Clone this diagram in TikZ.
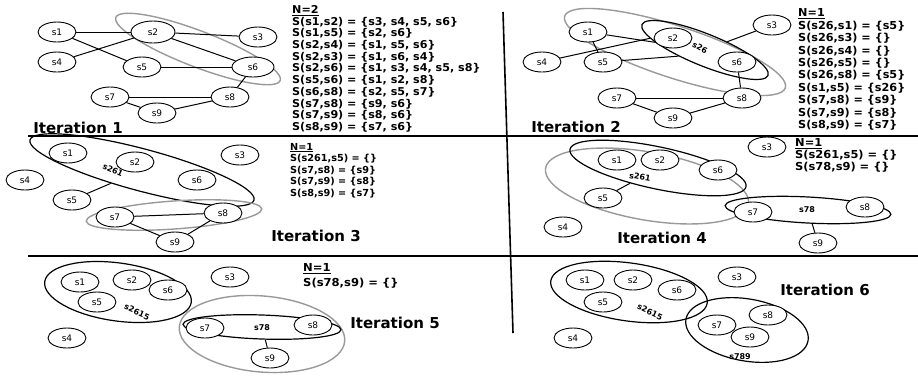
\documentclass[tikz,border=0pt]{standalone}
\usepackage{fontspec}
\setmainfont{DejaVu Sans}
\usetikzlibrary{shapes.geometric}
\newcommand\nodetxt{\fontsize{9}{10}\selectfont}
\newcommand\itertxt{\fontsize{15}{16}\selectfont\bfseries}
\newcommand\grptxt{\fontsize{8}{9}\selectfont\bfseries}
% #1 font size, #2 line distance, #3 horizontal stretch, #4 rows
\newcommand\statrows[4]{\scalebox{#3}[1]{\fontsize{#1}{#2}\selectfont\bfseries
  \begin{tabular}{@{}l@{}}#4\end{tabular}}}
\tikzset{
  sn/.style={ellipse, draw, line width=0.9pt, minimum width=38pt, minimum height=20pt, inner sep=0pt, font=\nodetxt, fill=white},
  grp/.style={ellipse, draw, line width=1.2pt, inner sep=0pt},
  hl/.style={ellipse, draw=black!40, line width=1.4pt, inner sep=0pt},
  link/.style={line width=1pt},
  itlab/.style={font=\itertxt, inner sep=0pt},
  info/.style={anchor=north west, inner sep=0pt},
  glab/.style={font=\grptxt, inner sep=0pt},
  rule/.style={line width=1.2pt}
}
\begin{document}
\begin{tikzpicture}[x=1pt,y=-1pt]
\useasboundingbox (0,0) rectangle (918,376);

% panel dividers
\coordinate (h1a) at (28,136);  \coordinate (h1b) at (918,136);
\coordinate (h2a) at (28,256);  \coordinate (h2b) at (918,256);
\coordinate (va) at (503,12);   \coordinate (vb) at (513,333);
\draw[rule] (h1a) -- (h1b);
\draw[rule] (h2a) -- (h2b);
\draw[line width=1.6pt] (va) -- (vb);

% ---------------- Iteration 1 ----------------
\node[hl, minimum width=176pt, minimum height=36pt, rotate=-21] (a26) at (198,49) {};
\node[sn] (a1) at (57,32) {s1};
\node[sn, minimum width=44pt, minimum height=22pt] (a2) at (153,32) {s2};
\node[sn] (a3) at (258,37) {s3};
\node[sn] (a4) at (57,62) {s4};
\node[sn] (a5) at (142,67) {s5};
\node[sn, minimum width=42pt] (a6) at (253,67) {s6};
\node[sn] (a7) at (110,97) {s7};
\node[sn] (a8) at (230,97) {s8};
\node[sn] (a9) at (157,113) {s9};
\draw[link] (a1) -- (a2);
\draw[link] (a1) -- (a5);
\draw[link] (a4) -- (a2);
\draw[link] (a2) -- (a3);
\draw[link] (a2) -- (a6);
\draw[link] (a5) -- (a6);
\draw[link] (a6) -- (a8);
\draw[link] (a7) -- (a8);
\draw[link] (a7) -- (a9);
\draw[link] (a9) -- (a8);
\node[itlab] (it1) at (78,128) {Iteration 1};
\node[info] (t1) at (292,5) {\statrows{10.8}{11.7}{1.03}{\underline{N=2}\\
S(s1,s2) = \{s3, s4, s5, s6\}\\
S(s1,s5) = \{s2, s6\}\\
S(s2,s4) = \{s1, s5, s6\}\\
S(s2,s3) = \{s1, s6, s4\}\\
S(s2,s6) = \{s1, s3, s4, s5, s8\}\\
S(s5,s6) = \{s1, s2, s8\}\\
S(s6,s8) = \{s2, s5, s7\}\\
S(s7,s8) = \{s9, s6\}\\
S(s7,s9) = \{s8, s6\}\\
S(s8,s9) = \{s7, s6\}}};

% ---------------- Iteration 2 ----------------
\node[hl, minimum width=232pt, minimum height=52pt, rotate=-18] (bh) at (675,52) {};
\node[grp, minimum width=136pt, minimum height=32pt, rotate=-22] (b26) at (705,50) {};
\node[sn] (b1) at (588,32) {s1};
\node[sn] (b2) at (673,38) {s2};
\node[sn] (b3) at (772,25) {s3};
\node[sn] (b4) at (542,62) {s4};
\node[sn] (b5) at (603,62) {s5};
\node[sn] (b6) at (737,62) {s6};
\node[sn] (b7) at (617,98) {s7};
\node[sn] (b8) at (742,98) {s8};
\node[sn] (b9) at (673,118) {s9};
\node[glab, rotate=-30] (l26) at (700,48) {s26};
\draw[link] (b1) -- (b26);
\draw[link] (b1) -- (b5);
\draw[link] (b4) -- (b26.190);
\draw[link] (b5) -- (b26.215);
\draw[link] (b3) -- (b26);
\draw[link] (b6) -- (b8);
\draw[link] (b7) -- (b8);
\draw[link] (b7) -- (b9);
\draw[link] (b9) -- (b8);
\node[itlab] (it2) at (576,127) {Iteration 2};
\node[info] (t2) at (798,8) {\statrows{11}{12.4}{1.02}{\underline{N=1}\\
S(s26,s1) = \{s5\}\\
S(s26,s3) = \{\}\\
S(s26,s4) = \{\}\\
S(s26,s5) = \{\}\\
S(s26,s8) = \{s5\}\\
S(s1,s5) = \{s26\}\\
S(s7,s8) = \{s9\}\\
S(s7,s9) = \{s8\}\\
S(s8,s9) = \{s7\}}};

% ---------------- Iteration 3 ----------------
\node[grp, minimum width=232pt, minimum height=42pt, rotate=-15] (c261) at (142,170) {};
\node[hl, minimum width=176pt, minimum height=28pt, rotate=4] (ch) at (174,215) {};
\node[sn] (c1) at (68,153) {s1};
\node[sn] (c2) at (135,162) {s2};
\node[sn] (c3) at (240,155) {s3};
\node[sn] (c4) at (25,180) {s4};
\node[sn] (c5) at (72,200) {s5};
\node[sn] (c6) at (197,180) {s6};
\node[sn] (c7) at (115,217) {s7};
\node[sn] (c8) at (223,213) {s8};
\node[sn] (c9) at (175,242) {s9};
\node[glab, rotate=-25] (l261) at (113,170) {s261};
\draw[link] (c5) -- (c261);
\draw[link] (c7) -- (c8);
\draw[link] (c7) -- (c9);
\draw[link] (c9) -- (c8);
\node[itlab] (it3) at (316,236) {Iteration 3};
\node[info] (t3) at (290,142) {\statrows{9.7}{11.5}{1.0}{\underline{N=1}\\
S(s261,s5) = \{\}\\
S(s7,s8) = \{s9\}\\
S(s7,s9) = \{s8\}\\
S(s8,s9) = \{s7\}}};

% ---------------- Iteration 4 ----------------
\node[hl, minimum width=206pt, minimum height=68pt, rotate=-10] (dh) at (647,186) {};
\node[grp, minimum width=180pt, minimum height=42pt, rotate=-12] (d261) at (658,168) {};
\node[grp, minimum width=166pt, minimum height=26pt, rotate=-3] (d78) at (808,210) {};
\node[sn] (d1) at (617,160) {s1};
\node[sn] (d2) at (660,160) {s2};
\node[sn] (d3) at (767,147) {s3};
\node[sn] (d4) at (563,227) {s4};
\node[sn] (d5) at (603,198) {s5};
\node[sn] (d6) at (718,170) {s6};
\node[sn] (d7) at (753,212) {s7};
\node[sn] (d8) at (865,207) {s8};
\node[sn] (d9) at (818,243) {s9};
\node[glab, rotate=-10] (l261d) at (640,177) {s261};
\node[glab] (l78d) at (807,210) {s78};
\draw[link] (d5) -- (d261);
\draw[link] (d78) -- (d9);
\node[itlab] (it4) at (662,238) {Iteration 4};
\node[info] (t4) at (795,138) {\statrows{11}{12}{1.04}{\underline{N=1}\\
S(s261,s5) = \{\}\\
S(s78,s9) = \{\}}};

% ---------------- Iteration 5 ----------------
\node[grp, minimum width=148pt, minimum height=58pt, rotate=-8] (e2615) at (118,292) {};
\node[hl, minimum width=166pt, minimum height=76pt, rotate=-5] (eh) at (262,334) {};
\node[grp, minimum width=158pt, minimum height=24pt, rotate=-2] (e78) at (262,327) {};
\node[sn] (e1) at (80,282) {s1};
\node[sn] (e2) at (132,280) {s2};
\node[sn] (e3) at (230,277) {s3};
\node[sn] (e4) at (67,338) {s4};
\node[sn] (e5) at (97,302) {s5};
\node[sn] (e6) at (168,290) {s6};
\node[sn] (e7) at (205,328) {s7};
\node[sn] (e8) at (313,325) {s8};
\node[sn] (e9) at (270,358) {s9};
\node[glab, rotate=-25] (l2615e) at (137,312) {s2615};
\node[glab] (l78e) at (262,328) {s78};
\draw[link] (e78) -- (e9);
\node[itlab] (it5) at (395,323) {Iteration 5};
\node[info] (t5) at (303,261) {\statrows{11}{15}{1.05}{\underline{N=1}\\
S(s78,s9) = \{\}}};

% ---------------- Iteration 6 ----------------
\node[grp, minimum width=158pt, minimum height=58pt, rotate=-8] (f2615) at (629,292) {};
\node[grp, minimum width=124pt, minimum height=62pt, rotate=-10] (f789) at (747,330) {};
\node[sn] (f1) at (585,280) {s1};
\node[sn] (f2) at (633,280) {s2};
\node[sn] (f3) at (737,277) {s3};
\node[sn] (f4) at (573,338) {s4};
\node[sn] (f5) at (603,302) {s5};
\node[sn] (f6) at (677,290) {s6};
\node[sn] (f7) at (717,325) {s7};
\node[sn] (f8) at (768,315) {s8};
\node[sn] (f9) at (750,337) {s9};
\node[glab, rotate=-25] (l2615f) at (650,312) {s2615};
\node[glab] (l789f) at (740,357) {s789};
\node[itlab] (it6) at (825,290) {Iteration 6};
\end{tikzpicture}
\end{document}
